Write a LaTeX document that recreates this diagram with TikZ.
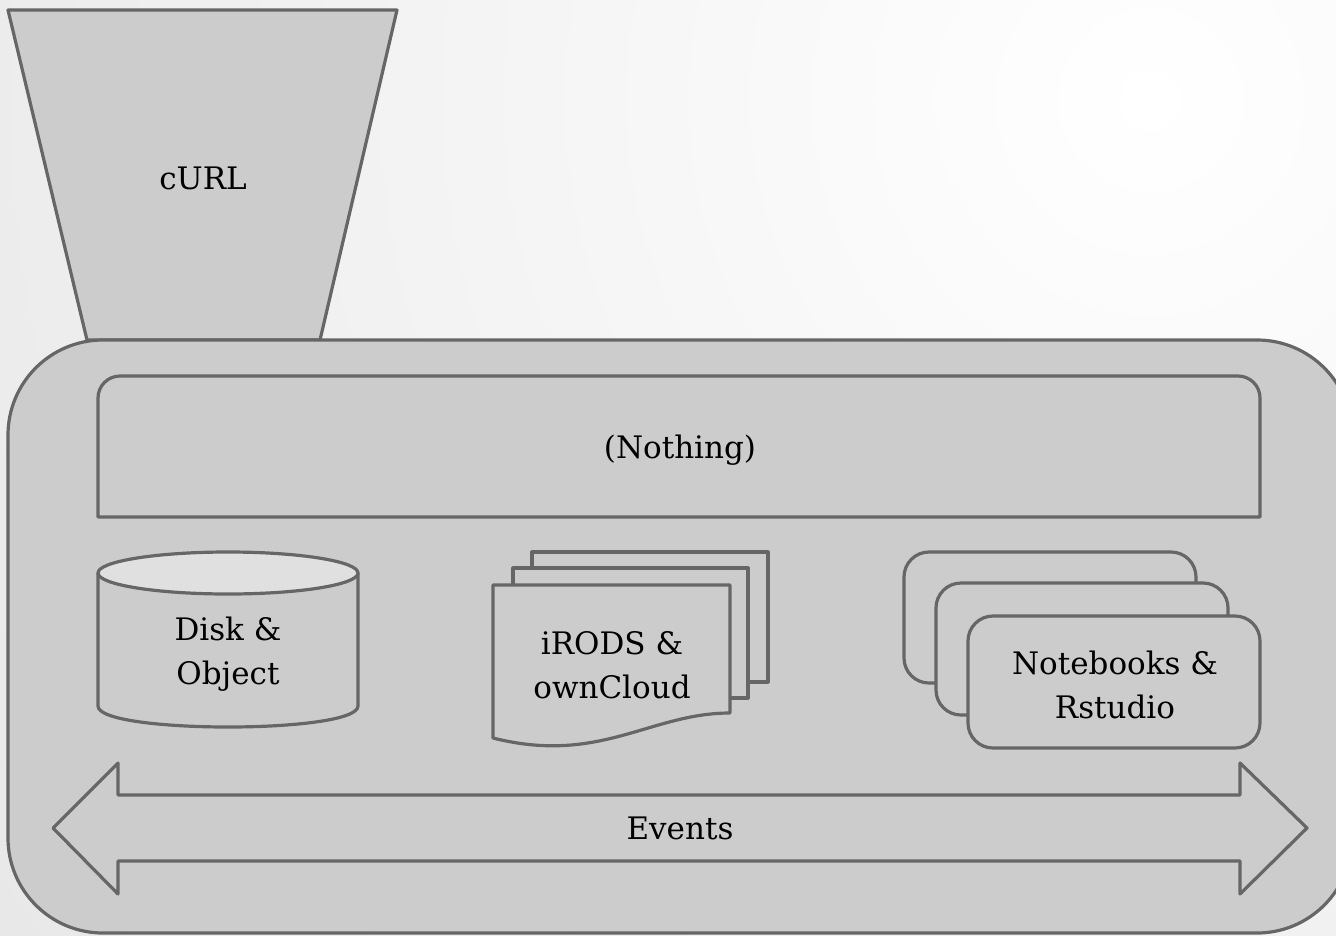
\documentclass[tikz,border=0pt]{standalone}
\usepackage{fontspec}
\setmainfont{DejaVu Serif}
\usepackage{xcolor}

\definecolor{boxgray}{HTML}{CCCCCC}
\definecolor{linegray}{HTML}{666666}
\definecolor{lidgray}{HTML}{E0E0E0}

\begin{document}
\begin{tikzpicture}[x=1pt,y=-1pt,
    part/.style={fill=boxgray,draw=linegray,line width=3.2pt,line join=round},
    label/.style={align=center,font=\fontsize{31}{44}\selectfont,text=black}]
            \useasboundingbox (0,0) rectangle (1336,935);
            \clip (0,0) rectangle (1336,935);
            \shade[inner color=white,outer color=gray!28] (1150,100) circle (2200);

            % funnel on top
            \draw[part] (8,10) -- (397,10) -- (320,340) -- (87,340) -- cycle;
            \node[label] (curl) at (203,178) {cURL};

            % outer frame
            \draw[part,rounded corners=95pt] (8,340) rectangle (1352,933);

            % top bar
            \draw[part] (98,517) [rounded corners=22pt] -- (98,376) -- (1260,376) [sharp corners] -- (1260,517) -- (98,517) -- cycle;
            \node[label] (nothing) at (680,450) {(Nothing)};

            % storage cylinder
            \fill[boxgray] (98,573) rectangle (358,706);
            \draw[part] (98,573) -- (98,706) .. controls (98,734) and (358,734) .. (358,706) -- (358,573);
            \draw[part,fill=lidgray] (228,573) ellipse (130 and 21);
            \node[label] (disk) at (228,654) {Disk \&\\Object};

            % document stack
            \draw[part] (532,552) rectangle (768,682);
            \draw[part] (513,568) rectangle (748,698);
            \draw[part] (493,585) -- (730,585) -- (730,713) .. controls (650,713) and (600,765) .. (493,738) -- cycle;
            \node[label] (irods) at (612,665) {iRODS \&\\ownCloud};

            % notebook stack
            \draw[part,rounded corners=25pt] (904,552) rectangle (1196,683);
            \draw[part,rounded corners=25pt] (936,583) rectangle (1228,715);
            \draw[part,rounded corners=25pt] (968,616) rectangle (1260,748);
            \node[label] (notebooks) at (1115,685) {Notebooks \&\\Rstudio};

            % event bus
            \draw[part] (53,828) -- (118,763) -- (118,795) -- (1240,795) -- (1240,763) -- (1307,828)
                -- (1240,894) -- (1240,861) -- (118,861) -- (118,894) -- cycle;
            \node[label] (events) at (680,828) {Events};

        \end{tikzpicture}
\end{document}
